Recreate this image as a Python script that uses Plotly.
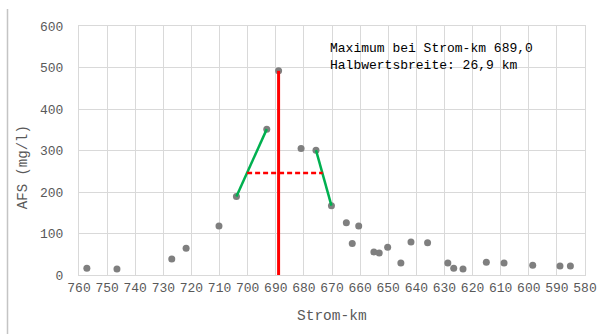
import plotly.graph_objects as go

# Data
km = [757.2, 746.5, 727.0, 721.9, 710.2, 704.0, 693.2, 689.0, 681.0, 675.7,
      670.2, 664.9, 662.8, 660.5, 655.1, 653.2, 650.2, 645.5, 641.9, 636.0,
      628.8, 626.7, 623.4, 615.1, 608.8, 598.6, 588.9, 585.2]
afs = [16, 14.5, 38.6, 64.4, 118, 189, 351.5, 492, 305, 300.8,
       167, 126, 75.7, 118, 55.5, 53, 66.8, 29, 79.6, 78,
       29, 16, 14.5, 30.6, 29, 23.4, 21.7, 21.7]

rise_idx = [5, 6]   # points used for the rising flank line
fall_idx = [9, 10]  # points used for the falling flank line
max_km = 689.0
max_val = 492
half_left = 700.2
half_right = 673.3

x_ticks = list(range(760, 579, -10))
y_ticks = list(range(0, 601, 100))

FONT = "Liberation Mono"
GRID = "#d9d9d9"
TICK = "#595959"

fig = go.Figure()

fig.add_trace(go.Scatter(x=km, y=afs, mode="markers",
                         marker=dict(color="#7f7f7f", size=7), hoverinfo="skip"))
fig.add_trace(go.Scatter(x=[km[i] for i in rise_idx], y=[afs[i] for i in rise_idx],
                         mode="lines", line=dict(color="#00b050", width=2.5), hoverinfo="skip"))
fig.add_trace(go.Scatter(x=[km[i] for i in fall_idx], y=[afs[i] for i in fall_idx],
                         mode="lines", line=dict(color="#00b050", width=2.5), hoverinfo="skip"))
fig.add_trace(go.Scatter(x=[max_km, max_km], y=[0, max_val], mode="lines",
                         line=dict(color="#ff0000", width=3), hoverinfo="skip"))
fig.add_trace(go.Scatter(x=[half_left, half_right], y=[max_val / 2, max_val / 2], mode="lines",
                         line=dict(color="#ff0000", width=2.5, dash="5px,3px"), hoverinfo="skip"))

fig.add_annotation(xref="paper", yref="paper", x=0.4915, y=0.8766,
                   xanchor="left", yanchor="middle", align="left", showarrow=False,
                   text="Maximum bei Strom-km 689,0<br>Halbwertsbreite: 26,9 km",
                   font=dict(family=FONT, size=13, color="#000000"))

fig.add_annotation(xref="paper", yref="paper", x=0.5, y=-0.163,
                   xanchor="center", yanchor="middle", showarrow=False,
                   text="Strom-km", font=dict(family=FONT, size=14.5, color=TICK))
fig.add_annotation(xref="paper", yref="paper", x=-0.1107, y=0.433,
                   xanchor="center", yanchor="middle", showarrow=False, textangle=-90,
                   text="AFS (mg/l)", font=dict(family=FONT, size=14, color=TICK))

fig.add_shape(type="line", xref="paper", yref="paper", x0=-0.1413, x1=-0.1413,
              y0=1.068, y1=-0.25, layer="above", line=dict(color="#c4c4c4", width=1.5))

fig.update_layout(
    width=598, height=334, autosize=False,
    margin=dict(l=79, r=13, t=26, b=59, autoexpand=False),
    paper_bgcolor="white", plot_bgcolor="white",
    showlegend=False,
    font=dict(family=FONT, size=13, color=TICK),
    xaxis=dict(range=[760, 580], tickvals=x_ticks, ticktext=[str(v) for v in x_ticks],
               showgrid=True, gridcolor=GRID, gridwidth=1, zeroline=False,
               showline=True, linecolor=GRID, linewidth=1, mirror=True, automargin=False,
               ticks="", tickfont=dict(family=FONT, size=13, color=TICK)),
    yaxis=dict(range=[0, 600], tickvals=y_ticks, ticktext=[str(v) for v in y_ticks],
               showgrid=True, gridcolor=GRID, gridwidth=1, zeroline=False,
               showline=True, linecolor=GRID, linewidth=1, mirror=True, automargin=False,
               ticks="", ticklabelstandoff=12,
               tickfont=dict(family=FONT, size=13, color=TICK)),
)

fig.write_html("out.html")
